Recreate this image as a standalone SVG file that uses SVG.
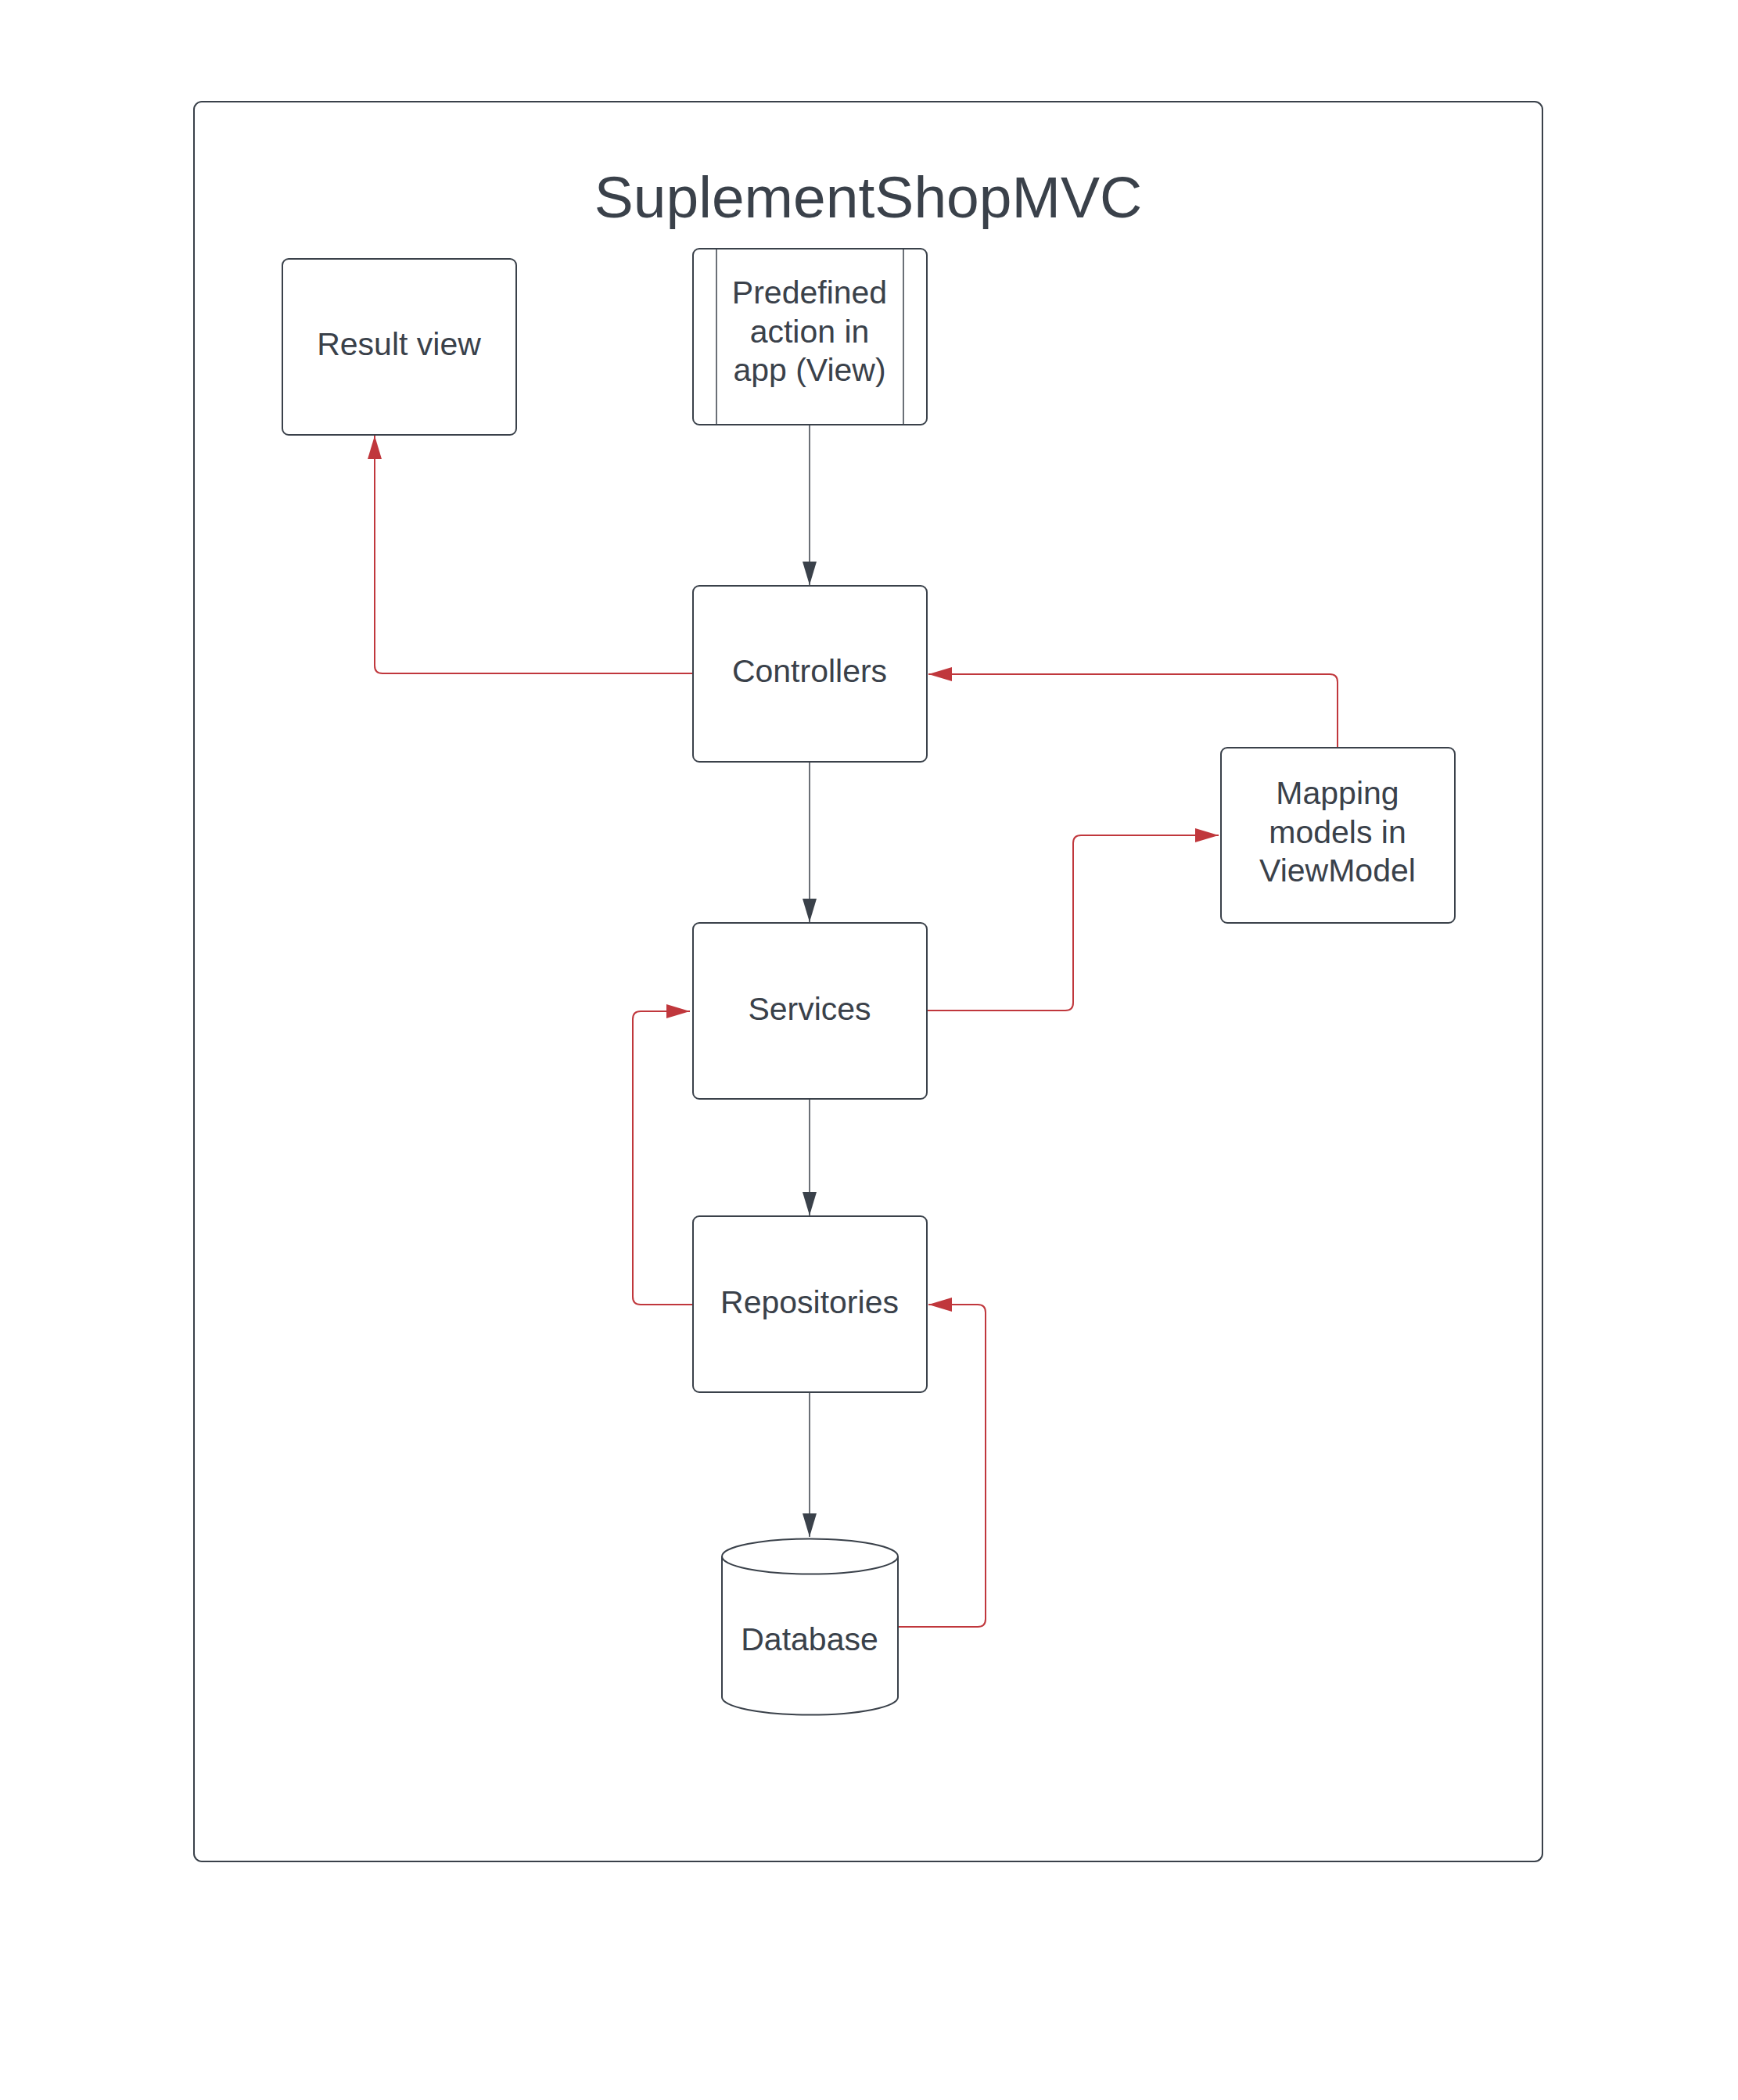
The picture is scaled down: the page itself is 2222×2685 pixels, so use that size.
<svg xmlns="http://www.w3.org/2000/svg" width="2222" height="2685" viewBox="0 0 2222 2685">
<style>
.node{fill:#ffffff;stroke:#3a414a;stroke-width:2}
.inner{fill:none;stroke:#3a414a;stroke-width:1.5}
.lbl{font-family:"Liberation Sans",Arial,sans-serif;font-size:41px;fill:#3a414a;text-anchor:middle}
.title{font-family:"Liberation Sans",Arial,sans-serif;font-size:75px;fill:#3a414a;text-anchor:middle}
.dark{fill:none;stroke:#3a414a;stroke-width:1.5}
.red{fill:none;stroke:#c0373c;stroke-width:2}
</style>
<defs>
<marker id="ahDark" markerUnits="userSpaceOnUse" markerWidth="30" markerHeight="18" refX="30" refY="9" orient="auto" viewBox="0 0 30 18">
<path d="M0,0 L30,9 L0,18 z" fill="#3a414a"/>
</marker>
<marker id="ahRed" markerUnits="userSpaceOnUse" markerWidth="30" markerHeight="18" refX="30" refY="9" orient="auto" viewBox="0 0 30 18">
<path d="M0,0 L30,9 L0,18 z" fill="#c0373c"/>
</marker>
</defs>
<rect width="2222" height="2685" fill="#ffffff"/>
<g id="frame">
<rect x="248" y="130" width="1724" height="2250" rx="10" ry="10" fill="none" stroke="#3a414a" stroke-width="2"/>
<text class="title" x="1110" y="278">SuplementShopMVC</text>
</g>
<g id="connectors">
<path class="dark" d="M1035,543 L1035,748" marker-end="url(#ahDark)"/>
<path class="dark" d="M1035,974 L1035,1179" marker-end="url(#ahDark)"/>
<path class="dark" d="M1035,1405 L1035,1554" marker-end="url(#ahDark)"/>
<path class="dark" d="M1035,1780 L1035,1965" marker-end="url(#ahDark)"/>
<path class="red" d="M885,861 L489,861 Q479,861 479,851 L479,557" marker-end="url(#ahRed)"/>
<path class="red" d="M1710,955 L1710,872 Q1710,862 1700,862 L1187,862" marker-end="url(#ahRed)"/>
<path class="red" d="M1186,1292 L1362,1292 Q1372,1292 1372,1282 L1372,1078 Q1372,1068 1382,1068 L1558,1068" marker-end="url(#ahRed)"/>
<path class="red" d="M885,1668 L819,1668 Q809,1668 809,1658 L809,1303 Q809,1293 819,1293 L882,1293" marker-end="url(#ahRed)"/>
<path class="red" d="M1148,2080 L1250,2080 Q1260,2080 1260,2070 L1260,1678 Q1260,1668 1250,1668 L1187,1668" marker-end="url(#ahRed)"/>
</g>
<g id="result-view">
<rect class="node" x="361" y="331" width="299" height="225" rx="8" ry="8"/>
<text class="lbl" x="510" y="454">Result view</text>
</g>
<g id="predefined-action">
<rect class="node" x="886" y="318" width="299" height="225" rx="8" ry="8"/>
<line class="inner" x1="916" y1="318" x2="916" y2="543"/>
<line class="inner" x1="1155" y1="318" x2="1155" y2="543"/>
<text class="lbl" x="1035" y="388">Predefined</text>
<text class="lbl" x="1035" y="438">action in</text>
<text class="lbl" x="1035" y="487">app (View)</text>
</g>
<g id="controllers">
<rect class="node" x="886" y="749" width="299" height="225" rx="8" ry="8"/>
<text class="lbl" x="1035" y="872">Controllers</text>
</g>
<g id="mapping">
<rect class="node" x="1561" y="956" width="299" height="224" rx="8" ry="8"/>
<text class="lbl" x="1710" y="1028">Mapping</text>
<text class="lbl" x="1710" y="1078">models in</text>
<text class="lbl" x="1710" y="1127">ViewModel</text>
</g>
<g id="services">
<rect class="node" x="886" y="1180" width="299" height="225" rx="8" ry="8"/>
<text class="lbl" x="1035" y="1304">Services</text>
</g>
<g id="repositories">
<rect class="node" x="886" y="1555" width="299" height="225" rx="8" ry="8"/>
<text class="lbl" x="1035" y="1679">Repositories</text>
</g>
<g id="database">
<path class="node" d="M923,1990 A112.5,22.5 0 0 1 1148,1990 L1148,2170 A112.5,22.5 0 0 1 923,2170 Z"/>
<path class="inner" style="stroke-width:2" d="M923,1990 A112.5,22.5 0 0 0 1148,1990"/>
<text class="lbl" x="1035" y="2110">Database</text>
</g>
</svg>
